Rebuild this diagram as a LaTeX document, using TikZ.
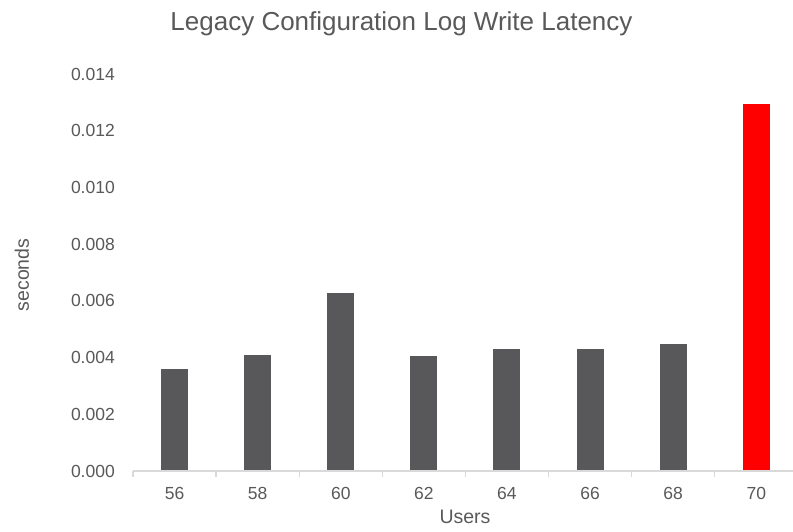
\documentclass[tikz,border=0pt]{standalone}
\usepackage{fontspec}
\setmainfont{Liberation Sans}
\definecolor{txtgray}{HTML}{595959}
\definecolor{bargray}{HTML}{58585A}
\definecolor{axisgray}{HTML}{D9D9D9}
\definecolor{barred}{HTML}{FF0000}
\tikzset{
  ticklbl/.style={text=txtgray, font=\fontsize{17.5}{20}\selectfont, inner sep=0pt},
  axtitle/.style={text=txtgray, font=\fontsize{19.5}{22}\selectfont, inner sep=0pt},
  bar/.style={fill=bargray, draw=none},
  hotbar/.style={fill=barred, draw=none},
  axisline/.style={draw=axisgray, line width=1.3pt},
}
\begin{document}
\begin{tikzpicture}[x=1pt,y=-1pt]
\useasboundingbox (0,0) rectangle (793,531);
\fill[white] (0,0) rectangle (793,531);
% title
\node[text=txtgray, font=\fontsize{26}{30}\selectfont, inner sep=0pt, anchor=base] (title) at (401.5,30) {Legacy Configuration Log Write Latency};
% y tick labels
\foreach \v [count=\i from 0] in {0.000,0.002,0.004,0.006,0.008,0.010,0.012,0.014} {
  \node[ticklbl, anchor=east] (yl\i) at (115,{471-56.7*\i}) {\v};
}
% bars (top y in px)
\def\cw{83.1}
\foreach \t [count=\i from 0] in {369,355,293,356,349,349,344} {
  \fill[bar] ({133+\cw*\i+41.55-13.5},471) rectangle ({133+\cw*\i+41.55+13.5},\t);
}
\fill[hotbar] ({133+\cw*7+41.55-13.5},471) rectangle ({133+\cw*7+41.55+13.5},104);
% axis
\coordinate (axL) at (133,471);
\coordinate (axR) at (793,471);
\draw[axisline] (axL) -- (axR);
\foreach \k in {0,...,7} {
  \draw[axisline] ({133+\cw*\k},471) -- ({133+\cw*\k},476.5);
}
% x tick labels
\foreach \u [count=\i from 0] in {56,58,60,62,64,66,68,70} {
  \node[ticklbl, anchor=center] (xl\i) at ({133+\cw*\i+41.55},493) {\u};
}
% axis titles
\node[axtitle, anchor=center] (xtitle) at (465,517) {Users};
\node[axtitle, anchor=center, rotate=90] (ytitle) at (22,275) {seconds};
\end{tikzpicture}
\end{document}
